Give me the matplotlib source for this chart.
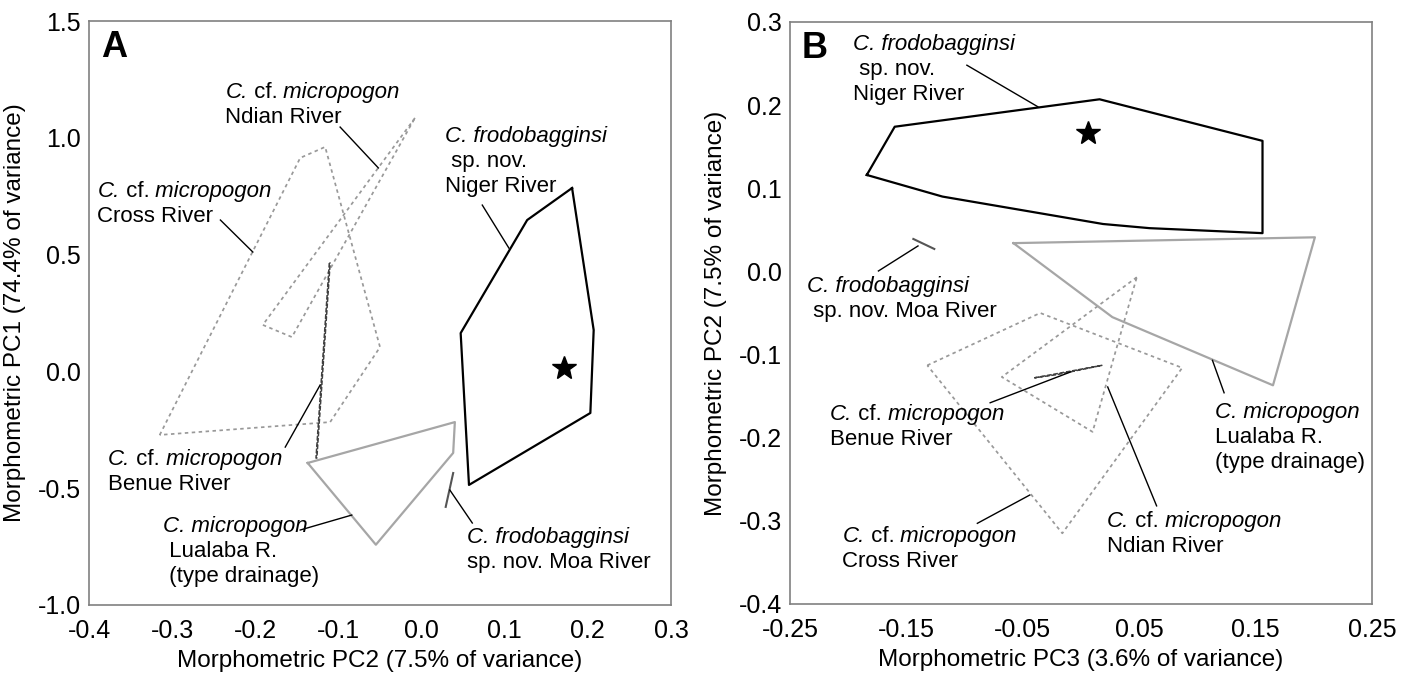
import matplotlib
matplotlib.use("Agg")
import matplotlib.pyplot as plt
from matplotlib.transforms import ScaledTranslation

plt.rcParams["font.family"] = ["Liberation Sans", "DejaVu Sans"]

# ---- panel A (PC2 vs PC1) ----
niger_a_x = [0.181, 0.127, 0.047, 0.057, 0.203, 0.207]
niger_a_y = [0.785, 0.648, 0.164, -0.486, -0.178, 0.177]
cross_a_x = [-0.315, -0.146, -0.116, -0.050, -0.110]
cross_a_y = [-0.272, 0.914, 0.961, 0.104, -0.217]
ndian_a_x = [-0.008, -0.191, -0.156]
ndian_a_y = [1.085, 0.199, 0.147]
benue_a_x = [-0.111, -0.127, -0.126, -0.110]
benue_a_y = [0.464, -0.371, -0.371, 0.464]
lualaba_a_x = [-0.137, 0.040, 0.038, -0.055]
lualaba_a_y = [-0.392, -0.217, -0.349, -0.742]
moa_a_x = [0.038, 0.029]
moa_a_y = [-0.435, -0.580]
star_a = (0.171, 0.015)

# ---- panel B (PC3 vs PC2) ----
niger_b_x = [-0.184, -0.160, 0.016, 0.156, 0.156, 0.059, 0.019, -0.119]
niger_b_y = [0.116, 0.174, 0.207, 0.157, 0.046, 0.052, 0.057, 0.090]
lualaba_b_x = [-0.058, 0.201, 0.165, 0.027]
lualaba_b_y = [0.034, 0.041, -0.137, -0.055]
cross_b_x = [-0.132, -0.035, 0.087, -0.016]
cross_b_y = [-0.113, -0.050, -0.116, -0.315]
ndian_b_x = [0.048, -0.068, 0.010]
ndian_b_y = [-0.007, -0.127, -0.193]
benue_b_x = [-0.040, 0.018, -0.020]
benue_b_y = [-0.128, -0.113, -0.124]
moa_b_x = [-0.144, -0.126]
moa_b_y = [0.039, 0.027]
star_b = (0.006, 0.166)

xticks_a = [-0.4, -0.3, -0.2, -0.1, 0.0, 0.1, 0.2, 0.3]
xlabels_a = ["-0.4", "-0.3", "-0.2", "-0.1", "0.0", "0.1", "0.2", "0.3"]
yticks_a = [-1.0, -0.5, 0.0, 0.5, 1.0, 1.5]
ylabels_a = ["-1.0", "-0.5", "0.0", "0.5", "1.0", "1.5"]
xticks_b = [-0.25, -0.15, -0.05, 0.05, 0.15, 0.25]
xlabels_b = ["-0.25", "-0.15", "-0.05", "0.05", "0.15", "0.25"]
yticks_b = [-0.4, -0.3, -0.2, -0.1, 0.0, 0.1, 0.2, 0.3]
ylabels_b = ["-0.4", "-0.3", "-0.2", "-0.1", "0.0", "0.1", "0.2", "0.3"]

# label lines: each line is a list of (text, italic)
CF = [("C.", True), (" cf.", False), (" micropogon", True)]
FRODO = [("C. frodobagginsi", True)]
MICRO = [("C. micropogon", True)]

# lines, text position (left, top), leader start, leader end
labels_a = [
    ([CF, [("Ndian River", False)]], (-0.236, 1.239), (-0.098, 1.046), (-0.052, 0.871)),
    ([CF, [("Cross River", False)]], (-0.390, 0.815), (-0.242, 0.648), (-0.203, 0.511)),
    ([CF, [("Benue River", False)]], (-0.377, -0.332), (-0.164, -0.324), (-0.122, -0.058)),
    ([FRODO, [(" sp. nov.", False)], [("Niger River", False)]], (0.028, 1.050),
     (0.073, 0.712), (0.105, 0.528)),
    ([FRODO, [("sp. nov. Moa River", False)]], (0.055, -0.666), (0.034, -0.508), (0.061, -0.649)),
    ([MICRO, [(" Lualaba R.", False)], [(" (type drainage)", False)]], (-0.311, -0.619),
     (-0.146, -0.679), (-0.084, -0.615)),
]
labels_b = [
    ([FRODO, [(" sp. nov.", False)], [("Niger River", False)]], (-0.196, 0.286),
     (-0.098, 0.248), (-0.037, 0.198)),
    ([FRODO, [(" sp. nov. Moa River", False)]], (-0.235, -0.0055), (-0.174, 0.0005), (-0.140, 0.0306)),
    ([MICRO, [("Lualaba R.", False)], [("(type drainage)", False)]], (0.115, -0.157),
     (0.113, -0.107), (0.123, -0.146)),
    ([CF, [("Benue River", False)]], (-0.216, -0.159), (-0.078, -0.158), (-0.009, -0.121)),
    ([CF, [("Cross River", False)]], (-0.205, -0.306), (-0.089, -0.303), (-0.044, -0.269)),
    ([CF, [("Ndian River", False)]], (0.022, -0.288), (0.023, -0.139), (0.065, -0.282)),
]

solid_black = dict(color="black", lw=1.6, ls="-")
solid_gray = dict(color="#a6a6a6", lw=1.6, ls="-")
dotted = dict(color="#999999", lw=1.25, ls=(0, (2, 2)))
dashdot = dict(color="#404040", lw=1.1, ls=(0, (3, 1.2)))
moa_style = dict(color="#555555", lw=1.5, ls="-")

fig = plt.figure(figsize=(14.18, 6.8), dpi=100)


def poly(ax, xs, ys, style):
    ax.plot(list(xs) + [xs[0]], list(ys) + [ys[0]], **style)


def setup(ax, xlim, ylim, xt, xl, yt, yl, xlabel, ylabel, letter):
    ax.set_xlim(*xlim)
    ax.set_ylim(*ylim)
    ax.set_xticks(xt)
    ax.set_xticklabels(xl)
    ax.set_yticks(yt)
    ax.set_yticklabels(yl)
    ax.tick_params(length=0, labelsize=18)
    ax.tick_params(axis="x", pad=10)
    ax.tick_params(axis="y", pad=6)
    for s in ax.spines.values():
        s.set_color("#808080")
        s.set_linewidth(1.2)
    ax.set_xlabel(xlabel, fontsize=17.5, labelpad=5)
    ax.set_ylabel(ylabel, fontsize=17.5, labelpad=8)
    ax.text(0.02, 0.985, letter, transform=ax.transAxes, fontsize=26,
            fontweight="bold", va="top", ha="left")


def put_labels(ax, labels, fs=16, line_px=25):
    for lines, (tx, ty), (x0, y0), (x1, y1) in labels:
        for i, parts in enumerate(lines):
            shift = ScaledTranslation(0, -i * line_px / fig.dpi, fig.dpi_scale_trans)
            prev = None
            for s, it in parts:
                style = "italic" if it else "normal"
                if prev is None:
                    prev = ax.text(tx, ty, s, transform=ax.transData + shift, fontsize=fs,
                                   fontstyle=style, va="top", ha="left")
                else:
                    prev = ax.annotate(s, xy=(1, 0), xycoords=prev, fontsize=fs,
                                       fontstyle=style, va="bottom", ha="left")
        ax.plot([x0, x1], [y0, y1], color="black", lw=1.0)


ax_a = fig.add_axes([0.0628, 0.1103, 0.4104, 0.8588])
ax_b = fig.add_axes([0.5571, 0.1118, 0.4104, 0.8559])

poly(ax_a, cross_a_x, cross_a_y, dotted)
poly(ax_a, ndian_a_x, ndian_a_y, dotted)
poly(ax_a, benue_a_x, benue_a_y, dashdot)
poly(ax_a, lualaba_a_x, lualaba_a_y, solid_gray)
poly(ax_a, niger_a_x, niger_a_y, solid_black)
ax_a.plot(moa_a_x, moa_a_y, **moa_style)
ax_a.plot(*star_a, marker="*", color="black", markersize=18)
put_labels(ax_a, labels_a)
setup(ax_a, (-0.4, 0.3), (-1.0, 1.5), xticks_a, xlabels_a, yticks_a, ylabels_a,
      "Morphometric PC2 (7.5% of variance)", "Morphometric PC1 (74.4% of variance)", "A")

poly(ax_b, cross_b_x, cross_b_y, dotted)
poly(ax_b, ndian_b_x, ndian_b_y, dotted)
poly(ax_b, benue_b_x, benue_b_y, dashdot)
poly(ax_b, lualaba_b_x, lualaba_b_y, solid_gray)
poly(ax_b, niger_b_x, niger_b_y, solid_black)
ax_b.plot(moa_b_x, moa_b_y, **moa_style)
ax_b.plot(*star_b, marker="*", color="black", markersize=18)
put_labels(ax_b, labels_b)
setup(ax_b, (-0.25, 0.25), (-0.4, 0.3), xticks_b, xlabels_b, yticks_b, ylabels_b,
      "Morphometric PC3 (3.6% of variance)", "Morphometric PC2 (7.5% of variance)", "B")

fig.savefig("out.png", dpi=100)
